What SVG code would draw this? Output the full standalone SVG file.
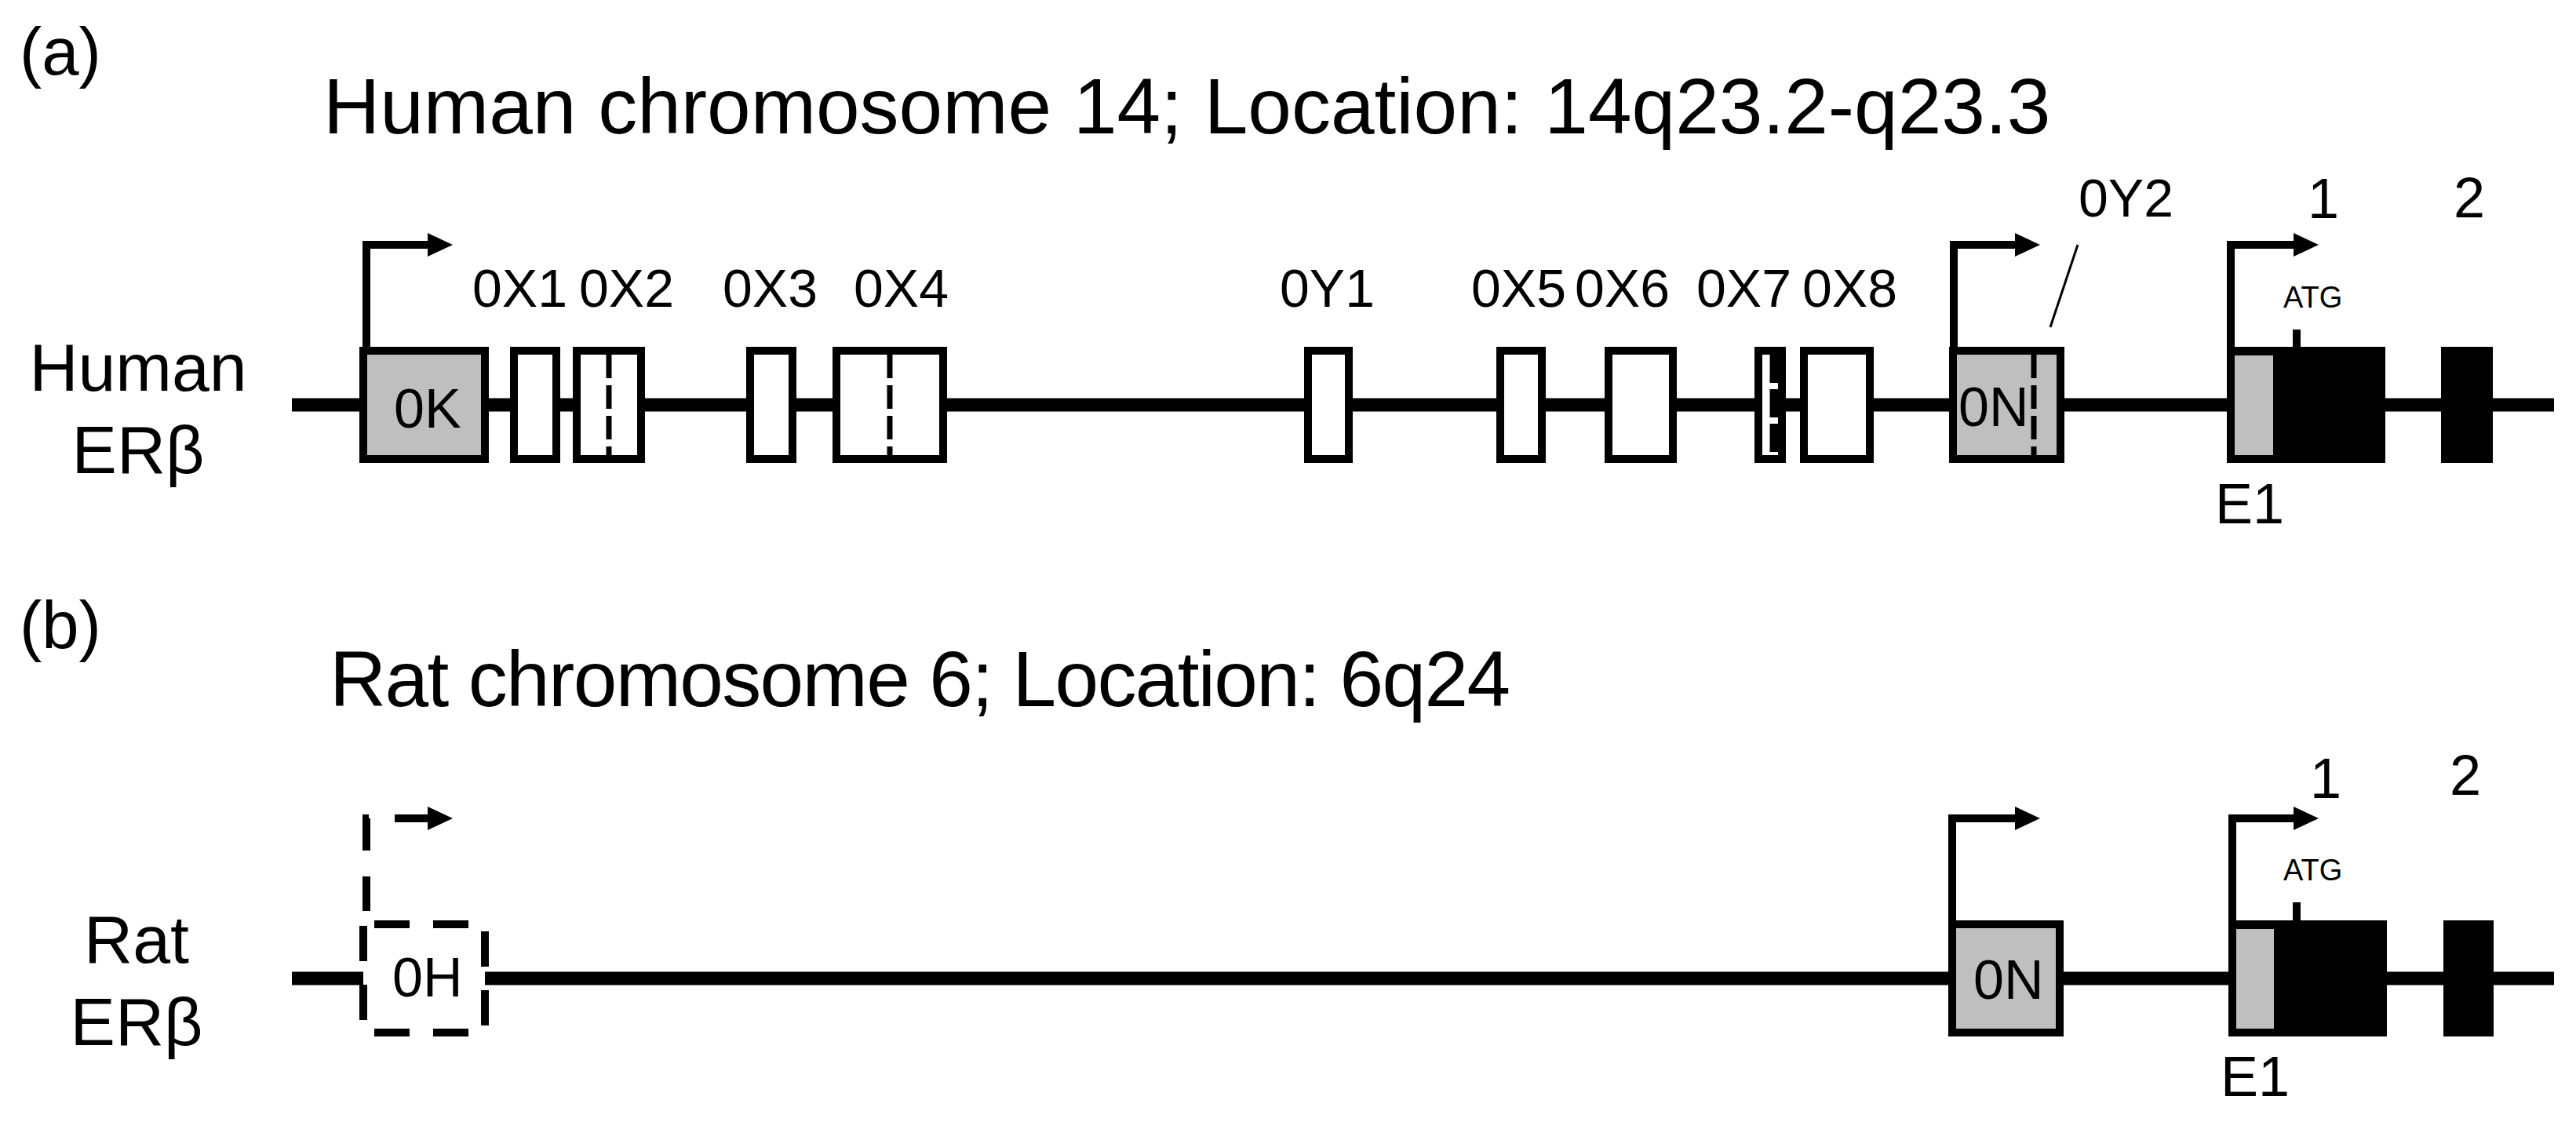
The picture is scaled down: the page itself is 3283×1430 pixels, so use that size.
<svg xmlns="http://www.w3.org/2000/svg" width="3283" height="1430" viewBox="0 0 3283 1430">
<defs>
<style>
text{font-family:"Liberation Sans",Arial,sans-serif;fill:#000}
.panel{font-size:85px}
.title{font-size:100px}
.side{font-size:86px;text-anchor:middle}
.lbl{font-size:68px}
.in{font-size:70px}
.num{font-size:72px}
.atg{font-size:38px}
.gene{stroke:#000;stroke-width:17;fill:none}
.ex{fill:#fff;stroke:#000;stroke-width:10}
.exg{fill:#BFBFBF;stroke:#000;stroke-width:10}
.exd{fill:#fff;stroke:#000;stroke-width:10;stroke-dasharray:45 30;stroke-dashoffset:-14}
.blk{fill:#000}
.gry{fill:#BFBFBF}
.dl{stroke:#000;stroke-width:7;stroke-dasharray:30 9}
.arr{fill:none;stroke:#000;stroke-width:10;stroke-linejoin:miter;marker-end:url(#head)}
.arrd{fill:none;stroke:#000;stroke-width:10;stroke-dasharray:44 33;stroke-dashoffset:-12;marker-end:url(#head)}
.tick{stroke:#000;stroke-width:10}
.thin{stroke:#000;stroke-width:3}
</style>
<marker id="head" markerUnits="userSpaceOnUse" markerWidth="32" markerHeight="32" refX="0" refY="16" orient="auto">
<path d="M0,1 L32,16 L0,31 Z" fill="#000"/>
</marker>
</defs>
<rect width="3283" height="1430" fill="#fff"/>

<text class="panel" x="25" y="95">(a)</text>
<text class="title" x="412" y="170">Human chromosome 14; Location: 14q23.2-q23.3</text>
<text class="side" x="176" y="498">Human</text>
<text class="side" x="176" y="603">ERβ</text>

<text class="panel" x="25" y="826">(b)</text>
<text class="title" x="420" y="900" textLength="1505">Rat chromosome 6; Location: 6q24</text>
<text class="side" x="174" y="1227">Rat</text>
<text class="side" x="174" y="1332">ERβ</text>

<g id="connectors">
<line class="gene" x1="372" y1="516" x2="3255" y2="516"/>
<line class="gene" x1="372" y1="1247" x2="463" y2="1247"/>
<line class="gene" x1="618" y1="1247" x2="3255" y2="1247"/>
<path class="arr" d="M467,443 V312 H545"/>
<path class="arr" d="M2490,443 V312 H2568"/>
<path class="arr" d="M2843,443 V312 H2923"/>
<path class="arrd" d="M467,1173 V1043 H545"/>
<path class="arr" d="M2488,1173 V1043 H2568"/>
<path class="arr" d="M2845,1173 V1043 H2923"/>
<line class="thin" x1="2648" y1="312" x2="2613" y2="417"/>
</g>

<g id="a-0K"><rect class="exg" x="463" y="447" width="155" height="138"/><text class="in" x="502" y="545">0K</text></g>
<g id="a-0X1"><rect class="ex" x="655" y="447" width="54" height="138"/><text class="lbl" x="602" y="391">0X1</text></g>
<g id="a-0X2"><rect class="ex" x="735" y="447" width="82" height="138"/><line class="dl" x1="776" y1="452" x2="776" y2="580"/><text class="lbl" x="738" y="391">0X2</text></g>
<g id="a-0X3"><rect class="ex" x="956" y="447" width="54" height="138"/><text class="lbl" x="921" y="391">0X3</text></g>
<g id="a-0X4"><rect class="ex" x="1066" y="447" width="136" height="138"/><line class="dl" x1="1134" y1="452" x2="1134" y2="580"/><text class="lbl" x="1088" y="391">0X4</text></g>
<g id="a-0Y1"><rect class="ex" x="1667" y="447" width="52" height="138"/><text class="lbl" x="1631" y="391">0Y1</text></g>
<g id="a-0X5"><rect class="ex" x="1912" y="447" width="53" height="138"/><text class="lbl" x="1875" y="391">0X5</text></g>
<g id="a-0X6"><rect class="ex" x="2050" y="447" width="82" height="138"/><text class="lbl" x="2007" y="391">0X6</text></g>
<g id="a-0X7"><rect class="ex" x="2241" y="447" width="30" height="138"/><line class="tick" x1="2261" y1="452" x2="2261" y2="580" style="stroke-dasharray:36 8;stroke-width:11"/><text class="lbl" x="2162" y="391">0X7</text></g>
<g id="a-0X8"><rect class="ex" x="2299" y="447" width="84" height="138"/><text class="lbl" x="2297" y="391">0X8</text></g>
<g id="a-0N"><rect class="exg" x="2489" y="447" width="137" height="138"/><line class="dl" x1="2592" y1="452" x2="2592" y2="580"/><text class="in" x="2496" y="543">0N</text></g>
<g id="a-0Y2"><text class="lbl" x="2649" y="276">0Y2</text></g>
<g id="a-E1"><rect class="blk" x="2838" y="442" width="202" height="148"/><rect class="gry" x="2848" y="453" width="49" height="127"/><line class="tick" x1="2927" y1="420" x2="2927" y2="443"/><text class="atg" x="2910" y="392">ATG</text><text class="num" x="2941" y="278">1</text><text class="num" x="2823" y="667">E1</text></g>
<g id="a-E2"><rect class="blk" x="3111" y="442" width="66" height="148"/><text class="num" x="3127" y="277">2</text></g>

<g id="b-0H"><rect class="exd" x="463" y="1178" width="155" height="138"/><text class="in" x="500" y="1270">0H</text></g>
<g id="b-0N"><rect class="exg" x="2488" y="1178" width="137" height="138"/><text class="in" x="2515" y="1273">0N</text></g>
<g id="b-E1"><rect class="blk" x="2840" y="1173" width="202" height="148"/><rect class="gry" x="2850" y="1184" width="48" height="127"/><line class="tick" x1="2927" y1="1150" x2="2927" y2="1174"/><text class="atg" x="2910" y="1122">ATG</text><text class="num" x="2944" y="1017">1</text><text class="num" x="3122" y="1013">2</text><text class="num" x="2830" y="1397">E1</text></g>
<g id="b-E2"><rect class="blk" x="3114" y="1173" width="64" height="148"/></g>
</svg>
